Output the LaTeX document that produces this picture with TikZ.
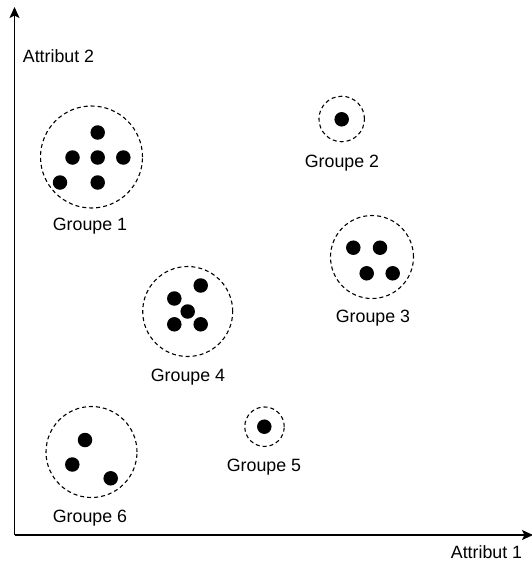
\documentclass[tikz,border=0pt]{standalone}
\usepackage{fontspec}
\setmainfont{Liberation Sans}
\usetikzlibrary{arrows.meta}
\begin{document}
\begin{tikzpicture}[x=1pt,y=-1pt,
  grp/.style={draw, circle, dashed, dash pattern=on 4pt off 3pt, line width=1.1pt, inner sep=0pt},
  pt/.style={fill=black, circle, inner sep=0pt, minimum size=14.5pt},
  lbl/.style={font=\fontsize{17.8}{20}\selectfont, inner sep=0pt},
  axis/.style={line width=1.2pt, -{Stealth[length=11pt,width=10pt,inset=2.5pt]}}]
\useasboundingbox (0,0) rectangle (532,562);
% axes
\coordinate (o) at (14.5,535);
\coordinate (ytop) at (14.5,7);
\coordinate (xend) at (533,535);
\draw[axis] (o) -- (ytop);
\draw[axis] (o) -- (xend);
\node[lbl] (a2) at (58.5,56) {Attribut 2};
\node[lbl] (a1) at (486.5,552.5) {Attribut 1};
% Groupe 1
\node[grp, minimum size=102pt] (g1) at (91.5,157) {};
\node[pt] (g1a) at (97.7,132.5) {};
\node[pt] (g1b) at (72.5,157.5) {};
\node[pt] (g1c) at (97.7,157.5) {};
\node[pt] (g1d) at (123.3,157.5) {};
\node[pt] (g1e) at (60,182.5) {};
\node[pt] (g1f) at (97.7,182.5) {};
\node[lbl] (l1) at (90,226) {Groupe 1};
% Groupe 2
\node[grp, minimum size=45.5pt] (g2) at (341.7,119) {};
\node[pt] (g2a) at (341.7,119.3) {};
\node[lbl] (l2) at (342,163) {Groupe 2};
% Groupe 3
\node[grp, minimum size=83pt] (g3) at (372,257) {};
\node[pt] (g3a) at (353.3,247.7) {};
\node[pt] (g3b) at (380,247.7) {};
\node[pt] (g3c) at (366.7,273.3) {};
\node[pt] (g3d) at (392.7,273.3) {};
\node[lbl] (l3) at (373,318) {Groupe 3};
% Groupe 4
\node[grp, minimum size=90pt] (g4) at (187.7,311.5) {};
\node[pt] (g4a) at (200.7,285.5) {};
\node[pt] (g4b) at (174.3,298.5) {};
\node[pt] (g4c) at (187.7,311.5) {};
\node[pt] (g4d) at (174.3,324.3) {};
\node[pt] (g4e) at (200.7,324.3) {};
\node[lbl] (l4) at (188,377) {Groupe 4};
% Groupe 5
\node[grp, minimum size=39.5pt] (g5) at (264.5,426.7) {};
\node[pt] (g5a) at (264.3,426.7) {};
\node[lbl] (l5) at (264,467) {Groupe 5};
% Groupe 6
\node[grp, minimum size=91pt] (g6) at (91.5,452) {};
\node[pt] (g6a) at (85,440) {};
\node[pt] (g6b) at (72.3,464.5) {};
\node[pt] (g6c) at (110.7,478.3) {};
\node[lbl] (l6) at (90,518.5) {Groupe 6};
\end{tikzpicture}
\end{document}
